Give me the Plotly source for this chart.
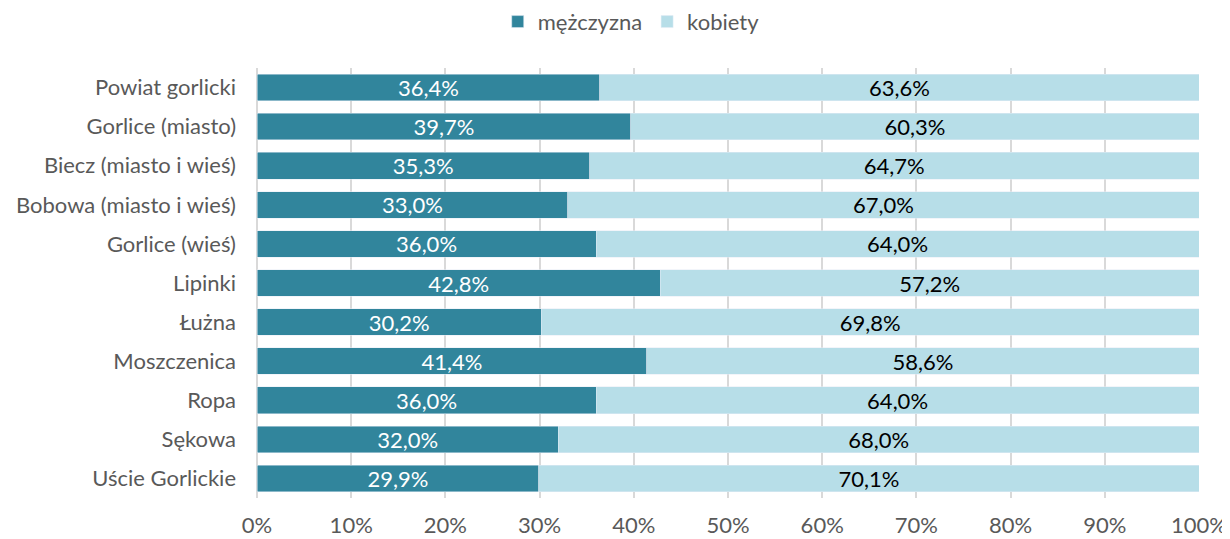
import plotly.graph_objects as go

categories = ["Powiat gorlicki", "Gorlice (miasto)", "Biecz (miasto i wieś)", "Bobowa (miasto i wieś)",
              "Gorlice (wieś)", "Lipinki", "Łużna", "Moszczenica", "Ropa", "Sękowa", "Uście Gorlickie"]
men = [36.4, 39.7, 35.3, 33.0, 36.0, 42.8, 30.2, 41.4, 36.0, 32.0, 29.9]
women = [63.6, 60.3, 64.7, 67.0, 64.0, 57.2, 69.8, 58.6, 64.0, 68.0, 70.1]
tick_vals = [0, 10, 20, 30, 40, 50, 60, 70, 80, 90, 100]
tick_text = [f"{v}%" for v in tick_vals]

def fmt(v):
    return f"{v:.1f}%".replace(".", ",")

font_family = "Lato, Open Sans, sans-serif"
FS = 22

fig = go.Figure()
fig.add_trace(go.Bar(
    y=categories, x=men, orientation="h", name="mężczyzna",
    marker=dict(color="#31859C"), text=[fmt(v) for v in men],
    textposition="inside", insidetextanchor="middle",
    textfont=dict(color="white", size=FS, family=font_family),
))
fig.add_trace(go.Bar(
    y=categories, x=women, orientation="h", name="kobiety",
    marker=dict(color="#B7DEE8"), text=[fmt(v) for v in women],
    textposition="inside", insidetextanchor="middle",
    textfont=dict(color="black", size=FS, family=font_family),
))

# the page adds an 8px body margin, so the figure is sized to fit the window
fig.update_layout(
    barmode="stack", bargap=0.32,
    width=1222, height=531,
    margin=dict(l=249, r=31, t=60, b=41, autoexpand=False),
    paper_bgcolor="white", plot_bgcolor="white",
    font=dict(family=font_family, size=FS, color="#595959"),
    uniformtext=dict(mode="show", minsize=FS),
    legend=dict(orientation="h", x=0.51, xanchor="center", xref="container",
                y=0.974, yanchor="middle", yref="container",
                font=dict(size=FS, color="#595959"), traceorder="normal"),
    xaxis=dict(range=[0, 100], tickvals=tick_vals, ticktext=tick_text,
               showgrid=True, gridcolor="#D9D9D9", gridwidth=2, zeroline=True,
               zerolinecolor="#D9D9D9", zerolinewidth=2, ticklabelstandoff=12,
               automargin=False, tickfont=dict(size=FS, color="#595959")),
    yaxis=dict(autorange="reversed", showgrid=False, automargin=False,
               ticklabelstandoff=20, tickfont=dict(size=FS, color="#595959")),
    showlegend=True,
)
fig.write_html("out.html")
